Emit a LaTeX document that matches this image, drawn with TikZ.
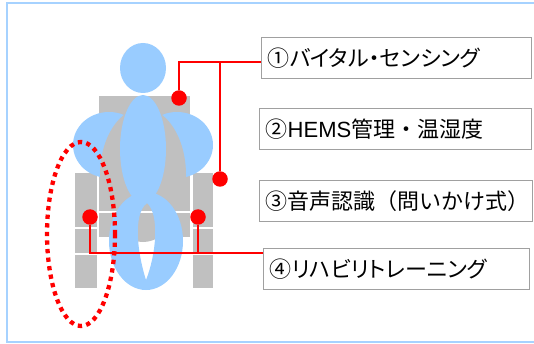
\documentclass[tikz,border=0pt]{standalone}
\usepackage{fontspec}
\newfontfamily\jp{Noto Sans CJK JP}
\newfontfamily\jpprop[RawFeature=+palt]{Noto Sans CJK JP}
\newfontfamily\lat{Liberation Sans}
\definecolor{bodyblue}{RGB}{153,204,255}
\definecolor{framecol}{RGB}{166,210,255}
\definecolor{chairgray}{RGB}{192,192,192}
\definecolor{boxgray}{RGB}{160,160,160}
\definecolor{alertred}{RGB}{255,0,0}
% fixed-width row holding one label, text flush left
\newcommand{\labelrow}[2]{\hbox to #1pt{\hskip6pt #2\hfil}}
\tikzset{
  labelbox/.style={draw=boxgray, fill=white, line width=1.4pt, minimum height=41pt,
    inner xsep=0pt, inner ysep=0pt, anchor=north west,
    font=\jp\fontsize{22}{26}\selectfont},
  kanabox/.style={labelbox, font=\jpprop\fontsize{22}{26}\selectfont},
  reddot/.style={circle, fill=alertred, inner sep=0pt, minimum size=15.5pt},
  redlink/.style={draw=alertred, line width=2pt},
  chairpart/.style={fill=chairgray, draw=white, line width=1pt},
  seatline/.style={draw=white, line width=1.5pt},
}
\begin{document}
\begin{tikzpicture}[x=1pt,y=-1pt]
\useasboundingbox (0,0) rectangle (534,344);
% outer frame
\draw[framecol, line width=2pt] (7,3) rectangle (560,342);

% wheelchair
\path[chairpart] (98,96) rectangle (190,237);
\path[chairpart] (74,173) rectangle (97,288);
\path[chairpart] (192,173) rectangle (213,288);
\draw[seatline] (74,228) -- (97,228) (74,254) -- (97,254);
\draw[seatline] (192,228) -- (213,228) (192,254) -- (213,254);

% person: arms, lap, torso, legs, head
\fill[bodyblue] (109,145) ellipse [x radius=36, y radius=33];
\fill[bodyblue] (177,145) ellipse [x radius=36, y radius=33];
\fill[chairgray] (143,175) ellipse [x radius=43, y radius=67];
\draw[seatline] (98,212) -- (190,212);
\fill[bodyblue] (143,149) ellipse [x radius=23, y radius=54];
\fill[bodyblue, even odd rule] (146,241) ellipse [x radius=37, y radius=49]
  (147,203) .. controls (132,215) and (138,255) .. (146,280)
  .. controls (156,255) and (160,215) .. (147,203) -- cycle;
\fill[bodyblue] (143,68) ellipse [x radius=23, y radius=25];

% dotted highlight around the left side
\draw[alertred, line width=4.3pt, dash pattern=on 4.3pt off 4.3pt]
  (81,234) ellipse [x radius=34, y radius=92];

% labels
\node[kanabox] (b1) at (261,37) {\labelrow{270}{①バイタル・センシング}};
\node[labelbox] (b2) at (259,108) {\labelrow{272}{②{\lat HEMS}管理・温湿度}};
\node[labelbox] (b3) at (259,180) {\labelrow{273}{③音声認識（問いかけ式）}};
\node[kanabox] (b4) at (263,248) {\labelrow{266}{④リハビリトレーニング}};

% sensor points and leader lines
\node[reddot] (d1) at (179,98) {};
\node[reddot] (d2) at (220,179) {};
\node[reddot] (d3) at (90,217) {};
\node[reddot] (d4) at (198,217) {};
\coordinate (j1) at (179,62);
\coordinate (j2) at (220,62);
\coordinate (k3) at (90,253);
\draw[redlink] (d1) -- (j1) -- (j1 -| b1.west);
\draw[redlink] (j2) -- (d2);
\draw[redlink] (d3) -- (k3) -- (k3 -| b4.west);
\draw[redlink] (d4) -- (d4 |- k3);
\end{tikzpicture}
\end{document}
